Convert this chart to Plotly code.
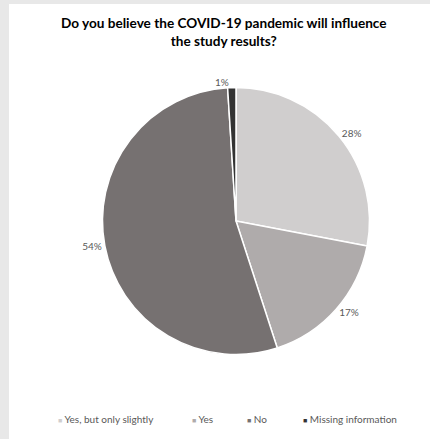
import plotly.graph_objects as go

# Survey answers and their shares (%)
categories = ["Yes, but only slightly", "Yes", "No", "Missing information"]
shares = [28, 17, 54, 1]
colors = ["#d0cece", "#afabab", "#767171", "#333333"]

title_text = "Do you believe the COVID-19 pandemic will influence<br>the study results?"

W, H = 430, 439

fig = go.Figure()

fig.add_trace(go.Pie(
    labels=categories,
    values=shares,
    sort=False,
    direction="clockwise",
    rotation=0,
    marker=dict(colors=colors, line=dict(color="white", width=1.5)),
    textinfo="percent",
    textposition="outside",
    textfont=dict(family="Lato", size=10, color="#595959"),
    showlegend=False,
    hoverinfo="label+percent",
    domain=dict(x=[102.5 / W, 369.5 / W], y=[1 - 354.5 / H, 1 - 87.5 / H]),
))

# Legend row drawn as text items under the pie
legend_x = [56, 190, 245, 301]
annotations = [
    dict(
        text=title_text, x=224 / W, y=1 - 32 / H, xref="paper", yref="paper",
        xanchor="center", yanchor="middle", showarrow=False,
        font=dict(family="Lato", size=13.6, color="#000000", weight="bold"),
    )
]
for name, col, lx in zip(categories, colors, legend_x):
    annotations.append(dict(
        text=f"<span style='color:{col};font-size:7px'>■</span> {name}",
        x=lx / W, y=1 - 419 / H, xref="paper", yref="paper",
        xanchor="left", yanchor="middle", showarrow=False,
        font=dict(family="Lato", size=10, color="#595959"),
    ))

fig.update_layout(
    width=W, height=H,
    margin=dict(l=0, r=0, t=0, b=0),
    paper_bgcolor="#e8e8e8",
    plot_bgcolor="white",
    annotations=annotations,
    shapes=[dict(
        type="rect", xref="paper", yref="paper",
        x0=9 / W, x1=1, y0=0, y1=1 - 4 / H,
        fillcolor="white", line=dict(width=0), layer="below",
    )],
)

fig.write_html("out.html")
